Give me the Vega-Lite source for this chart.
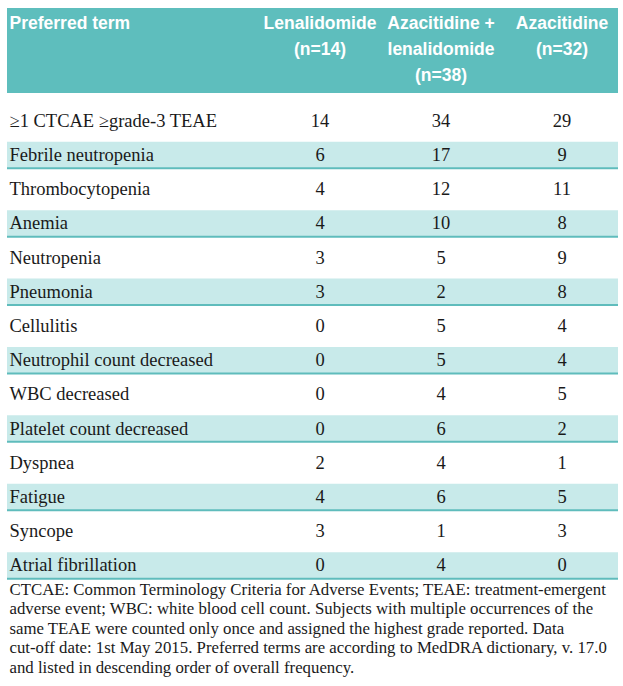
{
  "$schema": "https://vega.github.io/schema/vega-lite/v6.json",
  "padding": {"left": 6, "right": 6, "top": 8, "bottom": 10},
  "background": "white",
  "spacing": 0,
  "config": {"view": {"stroke": null}},
  "vconcat": [
    {
      "width": 611,
      "height": 85,
      "view": {"fill": "#5ebebd", "stroke": null},
      "data": {"values": [
        {"group": "Lenalidomide", "line": 1, "label": "Lenalidomide"},
        {"group": "Lenalidomide", "line": 2, "label": "(n=14)"},
        {"group": "Azacitidine + lenalidomide", "line": 1, "label": "Azacitidine +"},
        {"group": "Azacitidine + lenalidomide", "line": 2, "label": "lenalidomide"},
        {"group": "Azacitidine + lenalidomide", "line": 3, "label": "(n=38)"},
        {"group": "Azacitidine", "line": 1, "label": "Azacitidine"},
        {"group": "Azacitidine", "line": 2, "label": "(n=32)"}
      ]},
      "mark": {"type": "text", "font": "Liberation Sans, Arial, sans-serif", "fontWeight": "bold", "fontSize": 17.5, "color": "white", "baseline": "middle", "align": "center"},
      "encoding": {
        "x": {"field": "group", "type": "nominal", "scale": {"type": "point", "domain": ["Lenalidomide", "Azacitidine + lenalidomide", "Azacitidine"], "range": [313, 555], "padding": 0}, "axis": null},
        "y": {"field": "line", "type": "ordinal", "scale": {"type": "band", "domain": [1, 2, 3], "paddingInner": 0, "paddingOuter": 0.135, "align": 0.36},
          "axis": {"orient": "left", "title": null, "domain": false, "ticks": false, "tickSize": 0, "labelAlign": "left", "labelPadding": -2, "labelExpr": "datum.value == 1 ? 'Preferred term' : ''", "labelFont": "Liberation Sans, Arial, sans-serif", "labelFontWeight": "bold", "labelFontSize": 17.5, "labelColor": "white", "labelBaseline": "middle", "labelLimit": 400}},
        "text": {"field": "label"}
      }
    },
    {
      "width": 611,
      "height": 485.65,
      "data": {"values": [
        {"term": "≥1 CTCAE ≥grade-3 TEAE", "Lenalidomide": 14, "Azacitidine + lenalidomide": 34, "Azacitidine": 29},
        {"term": "Febrile neutropenia", "Lenalidomide": 6, "Azacitidine + lenalidomide": 17, "Azacitidine": 9},
        {"term": "Thrombocytopenia", "Lenalidomide": 4, "Azacitidine + lenalidomide": 12, "Azacitidine": 11},
        {"term": "Anemia", "Lenalidomide": 4, "Azacitidine + lenalidomide": 10, "Azacitidine": 8},
        {"term": "Neutropenia", "Lenalidomide": 3, "Azacitidine + lenalidomide": 5, "Azacitidine": 9},
        {"term": "Pneumonia", "Lenalidomide": 3, "Azacitidine + lenalidomide": 2, "Azacitidine": 8},
        {"term": "Cellulitis", "Lenalidomide": 0, "Azacitidine + lenalidomide": 5, "Azacitidine": 4},
        {"term": "Neutrophil count decreased", "Lenalidomide": 0, "Azacitidine + lenalidomide": 5, "Azacitidine": 4},
        {"term": "WBC decreased", "Lenalidomide": 0, "Azacitidine + lenalidomide": 4, "Azacitidine": 5},
        {"term": "Platelet count decreased", "Lenalidomide": 0, "Azacitidine + lenalidomide": 6, "Azacitidine": 2},
        {"term": "Dyspnea", "Lenalidomide": 2, "Azacitidine + lenalidomide": 4, "Azacitidine": 1},
        {"term": "Fatigue", "Lenalidomide": 4, "Azacitidine + lenalidomide": 6, "Azacitidine": 5},
        {"term": "Syncope", "Lenalidomide": 3, "Azacitidine + lenalidomide": 1, "Azacitidine": 3},
        {"term": "Atrial fibrillation", "Lenalidomide": 0, "Azacitidine + lenalidomide": 4, "Azacitidine": 0}
      ]},
      "layer": [
        {
          "transform": [{"window": [{"op": "row_number", "as": "rn"}]}, {"filter": "datum.rn % 2 == 0"}],
          "mark": {"type": "rect", "color": "#c8eaea"},
          "encoding": {
            "y": {"field": "term", "type": "nominal",
              "scale": {"type": "band", "domain": ["≥1 CTCAE ≥grade-3 TEAE", "Febrile neutropenia", "Thrombocytopenia", "Anemia", "Neutropenia", "Pneumonia", "Cellulitis", "Neutrophil count decreased", "WBC decreased", "Platelet count decreased", "Dyspnea", "Fatigue", "Syncope", "Atrial fibrillation"], "paddingInner": 0.225, "paddingOuter": 0.2127, "align": 1},
              "axis": {"orient": "left", "title": null, "domain": false, "ticks": false, "tickSize": 0, "labelAlign": "left", "labelPadding": -2, "labelFont": "Liberation Serif, serif", "labelFontSize": 18.5, "labelColor": "#1a1a1a", "labelBaseline": "middle", "labelLimit": 400}}
          }
        },
        {
          "transform": [{"window": [{"op": "row_number", "as": "rn"}]}, {"filter": "datum.rn % 2 == 0"}],
          "mark": {"type": "rule", "color": "#5fbcbc", "strokeWidth": 2},
          "encoding": {
            "y": {"field": "term", "type": "nominal", "bandPosition": 1}
          }
        },
        {
          "transform": [{"fold": ["Lenalidomide", "Azacitidine + lenalidomide", "Azacitidine"], "as": ["group", "count"]}],
          "mark": {"type": "text", "font": "Liberation Serif, serif", "fontSize": 18.5, "color": "#1a1a1a", "baseline": "middle", "align": "center"},
          "encoding": {
            "x": {"field": "group", "type": "nominal", "scale": {"type": "point", "domain": ["Lenalidomide", "Azacitidine + lenalidomide", "Azacitidine"], "range": [313, 555], "padding": 0}, "axis": null},
            "y": {"field": "term", "type": "nominal"},
            "text": {"field": "count", "type": "quantitative"}
          }
        }
      ]
    },
    {
      "width": 611,
      "height": 97.5,
      "data": {"values": [
        {"line": "CTCAE: Common Terminology Criteria for Adverse Events; TEAE: treatment-emergent"},
        {"line": "adverse event; WBC: white blood cell count. Subjects with multiple occurrences of the"},
        {"line": "same TEAE were counted only once and assigned the highest grade reported. Data"},
        {"line": "cut-off date: 1st May 2015. Preferred terms are according to MedDRA dictionary, v. 17.0"},
        {"line": "and listed in descending order of overall frequency."}
      ]},
      "mark": {"type": "text", "text": ""},
      "encoding": {
        "y": {"field": "line", "type": "nominal", "sort": null, "scale": {"type": "band", "paddingInner": 0, "paddingOuter": 0},
          "axis": {"orient": "left", "title": null, "domain": false, "ticks": false, "tickSize": 0, "labelAlign": "left", "labelPadding": -2, "labelFont": "Liberation Serif, serif", "labelFontSize": 16.8, "labelColor": "#1a1a1a", "labelBaseline": "middle", "labelLimit": 700}}
      }
    }
  ]
}
